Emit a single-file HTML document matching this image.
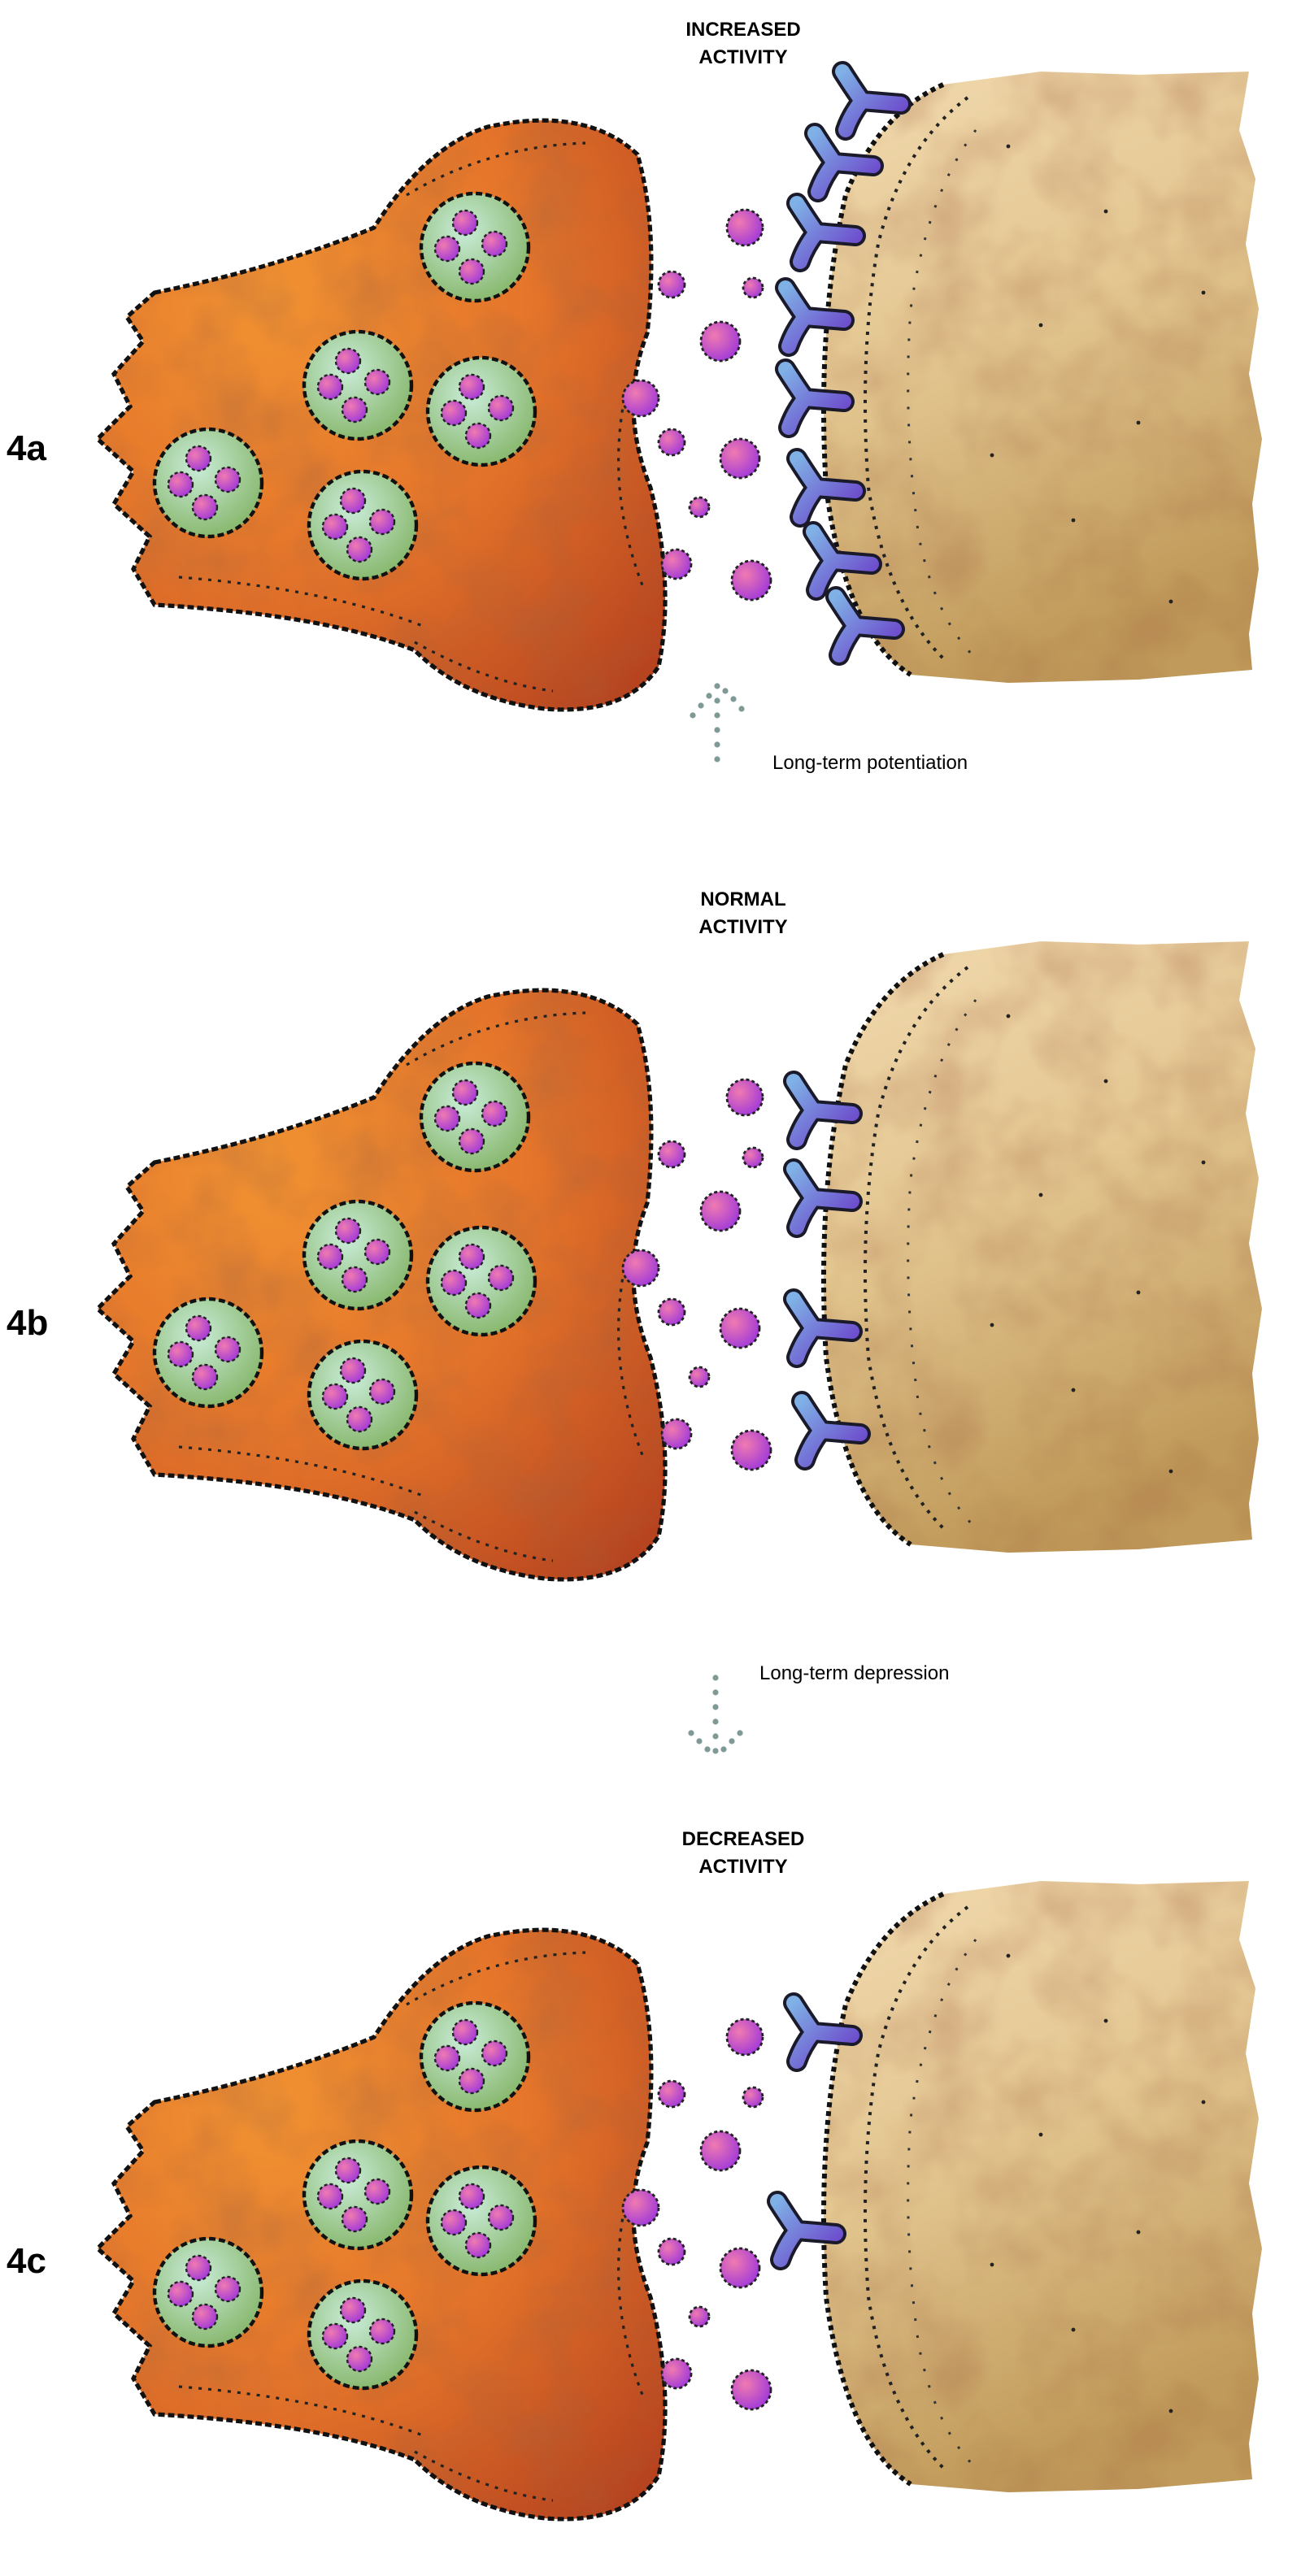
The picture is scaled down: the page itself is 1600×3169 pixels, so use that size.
<!DOCTYPE html>
<html><head><meta charset="utf-8"><style>
html,body{margin:0;padding:0;background:#fff;width:1600px;height:3169px;overflow:hidden}
svg{display:block}
text{font-family:"Liberation Sans",sans-serif}
</style></head><body>
<svg width="1600" height="3169" viewBox="0 0 800 1584.5" xmlns="http://www.w3.org/2000/svg">
<defs>
<radialGradient id="gPre" cx="0.3" cy="0.3" r="0.95">
<stop offset="0" stop-color="#f19232"/><stop offset="0.5" stop-color="#e4742a"/><stop offset="1" stop-color="#b4401e"/>
</radialGradient>
<linearGradient id="gPost" x1="0" y1="0" x2="0.3" y2="1">
<stop offset="0" stop-color="#f1d9ae"/><stop offset="0.5" stop-color="#e3c690"/><stop offset="1" stop-color="#c09a5a"/>
</linearGradient>
<filter id="mottle" x="0" y="0" width="1" height="1">
<feTurbulence type="fractalNoise" baseFrequency="0.025" numOctaves="3" seed="4"/>
<feColorMatrix values="0 0 0 0 0.35  0 0 0 0 0.12  0 0 0 0 0.05  0 0 0 -1.6 1.0"/>
<feComposite in2="SourceGraphic" operator="in"/>
</filter>
<radialGradient id="gVes" cx="0.4" cy="0.35" r="0.7">
<stop offset="0" stop-color="#c9ecd8"/><stop offset="1" stop-color="#86b66a"/>
</radialGradient>
<radialGradient id="gDot" cx="0.35" cy="0.35" r="0.7">
<stop offset="0" stop-color="#f07ab0"/><stop offset="1" stop-color="#a23ad8"/>
</radialGradient>
<linearGradient id="gRec" x1="0" y1="0" x2="1" y2="1">
<stop offset="0" stop-color="#7fb0e6"/><stop offset="1" stop-color="#6a3cc8"/>
</linearGradient>
<symbol id="ves" overflow="visible">
<circle r="33" fill="url(#gVes)" stroke="#111" stroke-width="2.2" stroke-dasharray="4 2"/>
<circle cx="-6" cy="-15" r="7.5" fill="url(#gDot)" stroke="#222" stroke-width="1.2" stroke-dasharray="2 1.5"/>
<circle cx="-17" cy="1" r="7.5" fill="url(#gDot)" stroke="#222" stroke-width="1.2" stroke-dasharray="2 1.5"/>
<circle cx="12" cy="-2" r="7.5" fill="url(#gDot)" stroke="#222" stroke-width="1.2" stroke-dasharray="2 1.5"/>
<circle cx="-2" cy="15" r="7.5" fill="url(#gDot)" stroke="#222" stroke-width="1.2" stroke-dasharray="2 1.5"/>
</symbol>
<symbol id="rec" overflow="visible">
<path d="M-12,-18 Q-5,-7 0,0 Q-7,9 -10,18 M0,0 L24,2" fill="none" stroke="#1a1a2a" stroke-width="13" stroke-linecap="round" stroke-linejoin="round"/>
<path d="M-12,-18 Q-5,-7 0,0 Q-7,9 -10,18 M0,0 L24,2" fill="none" stroke="url(#gRec)" stroke-width="9" stroke-linecap="round" stroke-linejoin="round"/>
</symbol>
<symbol id="panel" overflow="visible">
<path d="M580,52 L640,44 L700,46 L768,44 L762,80 L772,110 L766,150 L774,190 L768,230 L776,270 L770,310 L774,350 L768,390 L770,412 L700,418 L620,420 L560,415 Q520,390 508,300 Q502,200 520,120 Q540,70 580,52 Z" fill="url(#gPost)"/>
<path d="M580,52 L640,44 L700,46 L768,44 L762,80 L772,110 L766,150 L774,190 L768,230 L776,270 L770,310 L774,350 L768,390 L770,412 L700,418 L620,420 L560,415 Q520,390 508,300 Q502,200 520,120 Q540,70 580,52 Z" fill="#8a6a30" filter="url(#mottle)" opacity="0.35"/>
<path d="M580,52 Q540,70 520,120 Q502,200 508,300 Q520,390 560,415" fill="none" stroke="#111" stroke-width="3" stroke-dasharray="3 2.5"/>
<path d="M595,60 Q555,90 540,150 Q528,220 534,300 Q545,370 580,405" fill="none" stroke="#222" stroke-width="2" stroke-dasharray="2 4"/>
<path d="M600,80 Q570,120 560,190 Q555,260 565,330 Q575,380 600,405" fill="none" stroke="#333" stroke-width="1.5" stroke-dasharray="1.5 9"/>
<g fill="#222"><circle cx="620" cy="90" r="1.2"/><circle cx="680" cy="130" r="1.2"/><circle cx="640" cy="200" r="1.2"/><circle cx="700" cy="260" r="1.2"/><circle cx="660" cy="320" r="1.2"/><circle cx="720" cy="370" r="1.2"/><circle cx="610" cy="280" r="1.2"/><circle cx="740" cy="180" r="1.2"/></g>
<path d="M95,180 Q170,165 230,140 Q262,90 300,78 Q360,65 392,95 Q405,140 398,205 Q380,250 400,300 Q415,360 405,410 Q385,440 335,436 Q285,430 255,400 Q200,378 95,372 L82,350 L92,330 L70,310 L82,290 L60,270 L80,250 L70,230 L88,210 L78,195 Z" fill="url(#gPre)"/>
<path d="M95,180 Q170,165 230,140 Q262,90 300,78 Q360,65 392,95 Q405,140 398,205 Q380,250 400,300 Q415,360 405,410 Q385,440 335,436 Q285,430 255,400 Q200,378 95,372 L82,350 L92,330 L70,310 L82,290 L60,270 L80,250 L70,230 L88,210 L78,195 Z" fill="#9a3010" filter="url(#mottle)" opacity="0.4"/>
<path d="M95,180 Q170,165 230,140 Q262,90 300,78 Q360,65 392,95 Q405,140 398,205 Q380,250 400,300 Q415,360 405,410 Q385,440 335,436 Q285,430 255,400 Q200,378 95,372 L82,350 L92,330 L70,310 L82,290 L60,270 L80,250 L70,230 L88,210 L78,195 Z" fill="none" stroke="#111" stroke-width="2.6" stroke-dasharray="4 2"/>
<path d="M255,395 Q300,420 340,425 M385,240 Q372,300 395,360 M110,355 Q200,362 260,385 M250,120 Q300,90 360,88" fill="none" stroke="#222" stroke-width="1.6" stroke-dasharray="2 4"/>
<use href="#ves" x="292" y="152"/>
<use href="#ves" x="220" y="237"/>
<use href="#ves" x="296" y="253"/>
<use href="#ves" x="128" y="297"/>
<use href="#ves" x="223" y="323"/>
<g fill="url(#gDot)" stroke="#222" stroke-width="1.4" stroke-dasharray="2 1.5">
<circle cx="458" cy="140" r="11"/><circle cx="413" cy="175" r="8"/><circle cx="463" cy="177" r="6"/>
<circle cx="443" cy="210" r="12"/><circle cx="394" cy="245" r="11"/><circle cx="413" cy="272" r="8"/>
<circle cx="455" cy="282" r="12"/><circle cx="430" cy="312" r="6"/><circle cx="416" cy="347" r="9"/>
<circle cx="462" cy="357" r="12"/>
</g>
</symbol>
</defs>

<use href="#panel" x="0" y="0"/>
<use href="#rec" x="530" y="62"/><use href="#rec" x="513" y="100"/><use href="#rec" x="502" y="143"/>
<use href="#rec" x="495" y="195"/><use href="#rec" x="495" y="245"/><use href="#rec" x="502" y="300"/>
<use href="#rec" x="512" y="345"/><use href="#rec" x="526" y="385"/>
<text x="457" y="22" font-size="12" font-weight="bold" text-anchor="middle">INCREASED</text>
<text x="457" y="39" font-size="12" font-weight="bold" text-anchor="middle">ACTIVITY</text>
<text x="4" y="283" font-size="22" font-weight="bold">4a</text>
<g fill="#7f9a96"><circle cx="436" cy="428" r="1.8"/><circle cx="441" cy="422" r="1.8"/><circle cx="446" cy="425" r="1.8"/><circle cx="451" cy="430" r="1.8"/><circle cx="456" cy="436" r="1.8"/><circle cx="431" cy="434" r="1.8"/><circle cx="426" cy="440" r="1.8"/><circle cx="441" cy="431" r="1.8"/><circle cx="441" cy="440" r="1.8"/><circle cx="441" cy="449" r="1.8"/><circle cx="441" cy="458" r="1.8"/><circle cx="441" cy="467" r="1.8"/></g>
<text x="475" y="473" font-size="12">Long-term potentiation</text>

<use href="#panel" x="0" y="535"/>
<use href="#rec" x="500" y="683"/><use href="#rec" x="500" y="737"/><use href="#rec" x="500" y="817"/><use href="#rec" x="505" y="880"/>
<text x="457" y="557" font-size="12" font-weight="bold" text-anchor="middle">NORMAL</text>
<text x="457" y="574" font-size="12" font-weight="bold" text-anchor="middle">ACTIVITY</text>
<text x="4" y="821" font-size="22" font-weight="bold">4b</text>
<g fill="#7f9a96"><circle cx="440" cy="1032" r="1.8"/><circle cx="440" cy="1041" r="1.8"/><circle cx="440" cy="1050" r="1.8"/><circle cx="440" cy="1059" r="1.8"/><circle cx="440" cy="1068" r="1.8"/><circle cx="440" cy="1077" r="1.8"/><circle cx="425" cy="1066" r="1.8"/><circle cx="430" cy="1071" r="1.8"/><circle cx="435" cy="1076" r="1.8"/><circle cx="445" cy="1076" r="1.8"/><circle cx="450" cy="1071" r="1.8"/><circle cx="455" cy="1066" r="1.8"/></g>
<text x="467" y="1033" font-size="12">Long-term depression</text>

<use href="#panel" x="0" y="1113"/>
<use href="#rec" x="500" y="1250"/><use href="#rec" x="490" y="1372"/>
<text x="457" y="1135" font-size="12" font-weight="bold" text-anchor="middle">DECREASED</text>
<text x="457" y="1152" font-size="12" font-weight="bold" text-anchor="middle">ACTIVITY</text>
<text x="4" y="1398" font-size="22" font-weight="bold">4c</text>
</svg>
</body></html>
